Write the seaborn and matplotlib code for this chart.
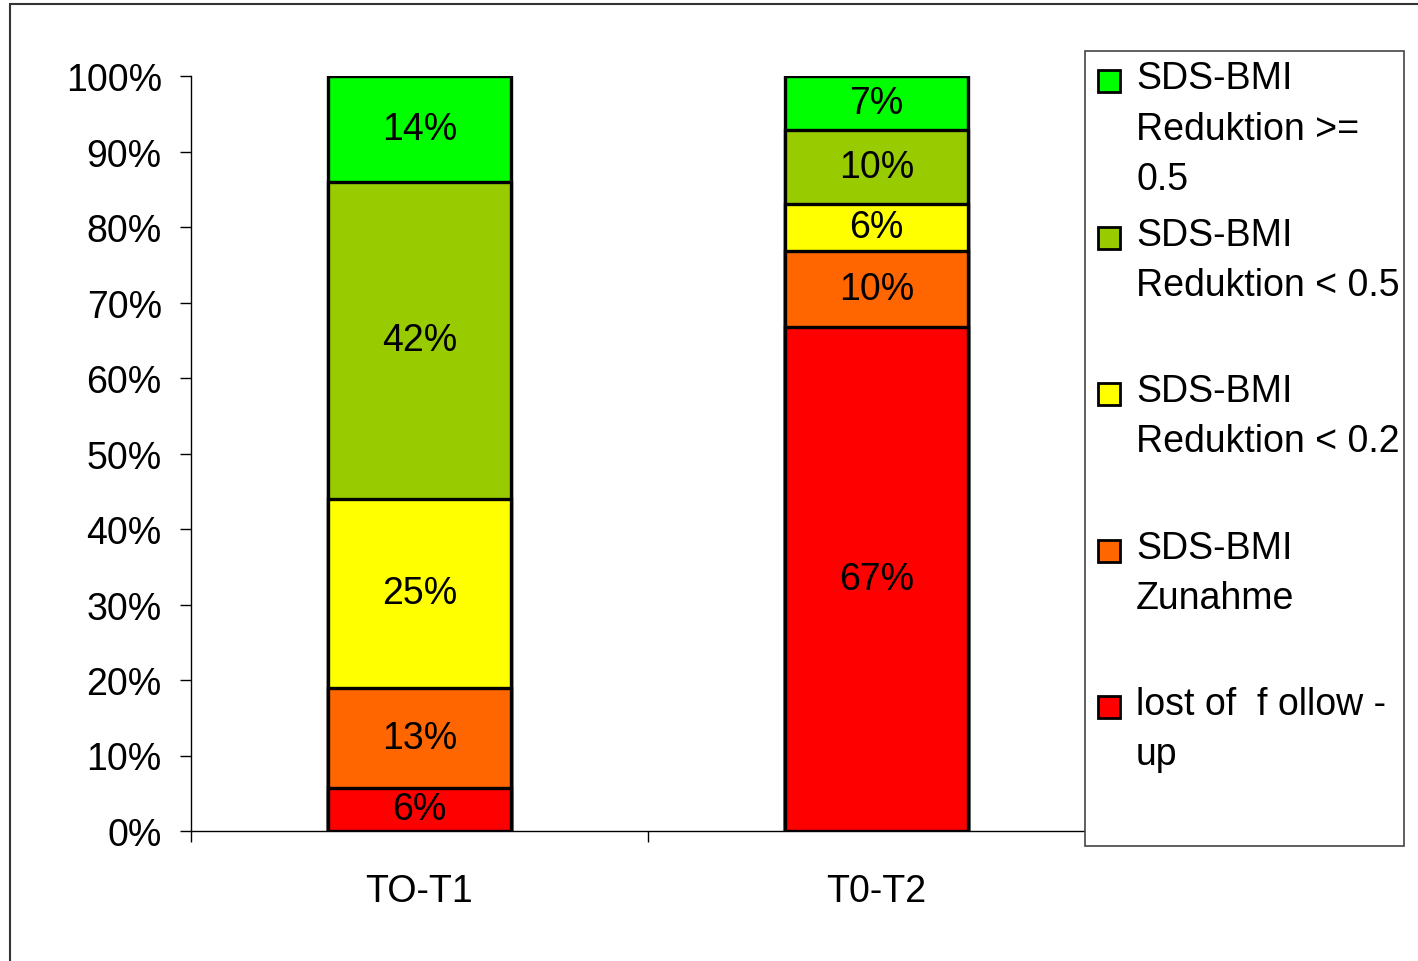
import numpy as np
import pandas as pd
import seaborn as sns
import matplotlib.pyplot as plt
from matplotlib.patches import Rectangle

# data (percent), stacked bottom -> top
periods = ["TO-T1", "T0-T2"]
lost_follow_up = [5.7, 66.7]
zunahme = [13.3, 10.1]
reduktion_02 = [25.0, 6.3]
reduktion_05 = [42.0, 9.8]
reduktion_ge05 = [14.0, 7.1]

# legend order (top -> bottom) and colours
legend_labels = ["SDS-BMI\nReduktion >=\n0.5", "SDS-BMI\nReduktion < 0.5",
                 "SDS-BMI\nReduktion < 0.2", "SDS-BMI\nZunahme",
                 "lost of  f ollow -\nup"]
stack_colors = ["#FF0000", "#FF6600", "#FFFF00", "#99CC00", "#00FF00"]

sns.set_style("white")
plt.rcParams['font.family'] = ['Liberation Sans', 'DejaVu Sans']
FS = 27

W, H = 1418, 962
fig = plt.figure(figsize=(W / 100, H / 100), dpi=100)
ax = fig.add_axes([191 / W, 1 - 832 / H, 914 / W, 755 / H])

stack = np.array([lost_follow_up, zunahme, reduktion_02, reduktion_05, reduktion_ge05]) / 100
cum = np.cumsum(stack, axis=0)

# draw cumulative bars from top layer down so lower layers sit on top
for i in reversed(range(len(stack))):
    df = pd.DataFrame({"period": periods, "value": cum[i]})
    sns.barplot(data=df, x="period", y="value", color=stack_colors[i], saturation=1,
                width=0.4, edgecolor="black", linewidth=2.4, errorbar=None, ax=ax)

# segment labels
for i in range(len(stack)):
    for j in range(len(periods)):
        mid = cum[i][j] - stack[i][j] / 2
        ax.text(j, mid, f"{stack[i][j] * 100:.0f}%", ha="center", va="center",
                fontsize=FS, color="black")

ax.set_xlim(-0.5, 1.5)
ax.set_ylim(0, 1)
yt = np.arange(0, 1.01, 0.1)
ax.set_yticks(yt)
ax.set_yticklabels([f"{round(t * 100)}%" for t in yt], fontsize=FS)
ax.set_xticks([0, 1])
ax.set_xticklabels(periods, fontsize=FS)
ax.set_xticks([-0.5, 0.5, 1.5], minor=True)
ax.tick_params(which="both", bottom=True, left=True)
ax.tick_params(axis="x", which="major", length=0, pad=30, colors="black")
ax.tick_params(axis="x", which="minor", length=8, width=1, direction="out", color="black")
ax.tick_params(axis="y", which="major", length=8, width=1, direction="out", pad=13,
               colors="black")
ax.set_xlabel("")
ax.set_ylabel("")
for s in ["top", "right"]:
    ax.spines[s].set_visible(False)
for s in ["left", "bottom"]:
    ax.spines[s].set_color("black")
    ax.spines[s].set_linewidth(1)


def fx(x):
    return x / W


def fy(y):
    return 1 - y / H


# outer chart frame
fig.patches.append(Rectangle((fx(10), -0.1), 1.2, fy(5) + 0.1, transform=fig.transFigure,
                             fill=False, edgecolor="#333333", linewidth=1.5))

# legend box
fig.patches.append(Rectangle((fx(1085), fy(847)), (1404 - 1085) / W, (847 - 52) / H,
                             transform=fig.transFigure, facecolor="white",
                             edgecolor="#444444", linewidth=1.2, zorder=5))
legend_colors = stack_colors[::-1]
line_gap = 50.5
for k, (lab, col) in enumerate(zip(legend_labels, legend_colors)):
    base = 93 + k * 156.5
    fig.patches.append(Rectangle((fx(1098), fy(base)), 22 / W, 22 / H,
                                 transform=fig.transFigure, facecolor=col,
                                 edgecolor="black", linewidth=2, zorder=6))
    last_base = base - 4 + lab.count("\n") * line_gap
    fig.text(fx(1136), fy(last_base), lab, fontsize=FS, ha="left", va="baseline",
             linespacing=1.51, color="black", zorder=7)

fig.savefig("out.png", dpi=100)
